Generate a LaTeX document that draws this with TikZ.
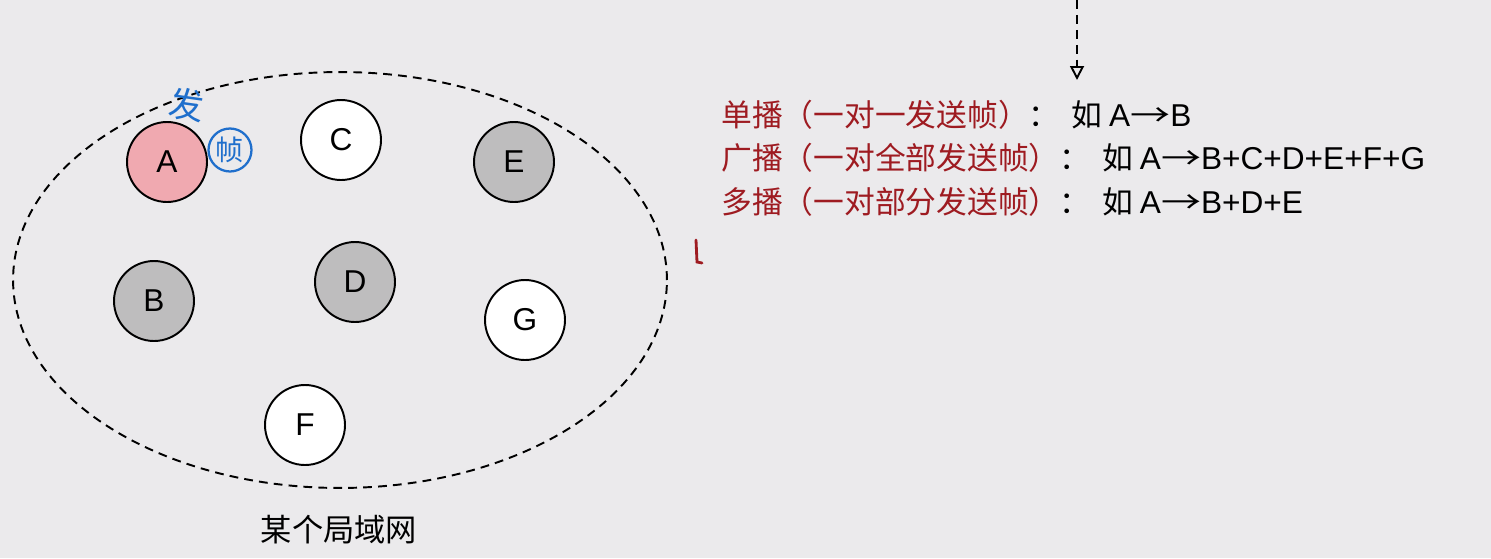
\documentclass[tikz,border=0pt]{standalone}
\usepackage{fontspec}
\setmainfont{Noto Sans CJK SC}
\newfontfamily\latinfont{Liberation Sans}
\usetikzlibrary{arrows.meta,positioning}
\definecolor{slidegray}{HTML}{EBEAEC}
\definecolor{hostpink}{HTML}{F0A9B0}
\definecolor{hostgray}{HTML}{BEBDBE}
\definecolor{castred}{HTML}{9E1B21}
\definecolor{penblue}{HTML}{1F6FCC}
\newcommand{\lat}[1]{{\latinfont\fontsize{18}{21}\selectfont #1}}
\newcommand{\sendto}{\scalebox{1.3}[1]{→}}
\tikzset{
  host/.style={
    circle,
    draw=black,
    line width=1.1pt,
    fill=white,
    minimum size=1.6cm,
    inner sep=0pt,
    font=\latinfont\fontsize{18}{21}\selectfont
  },
  busyhost/.style={host, fill=hostgray},
  srchost/.style={host, fill=hostpink},
  castline/.style={
    anchor=west,
    inner sep=0pt,
    font=\fontsize{17.5}{21}\selectfont
  },
  pen/.style={
    text=penblue,
    inner sep=1pt
  }
}

\begin{document}
\begin{tikzpicture}[x=0.02cm, y=-0.02cm]
\fill[slidegray] (0,0) rectangle (1491,558);
\useasboundingbox (0,0) rectangle (1491,558);

% the LAN
\draw[dashed, line width=1.1pt, dash pattern=on 5pt off 3.5pt]
  (340,280) ellipse [x radius=6.54cm, y radius=4.16cm];
\node[srchost] (A) at (167,162) {A};
\node[host] (C) at (341,140) {C};
\node[busyhost] (E) at (514,162) {E};
\node[busyhost] (B) at (154,301) {B};
\node[busyhost] (D) at (355,282) {D};
\node[host] (G) at (525,320) {G};
\node[host] (F) at (305,425) {F};
\node[font=\fontsize{17.8}{21}\selectfont] (lan) at (339,530) {某个局域网};

% pen notes
\node[pen, font=\fontsize{20}{22}\selectfont, rotate=-8] (fa) at (187,105) {发};
\node[pen, circle, draw=penblue, line width=1.3pt, minimum size=0.86cm,
  inner sep=0pt, font=\fontsize{16}{17}\selectfont] (zhen) at (230,150) {帧};
\draw[castred, line width=1.6pt, line cap=round] (696,240) -- (697,262) -- (702,263);

% the three cases
\coordinate (feed) at (1077,0);
\coordinate (feedend) at (1077,80);
\draw[dashed, line width=1.1pt, dash pattern=on 5pt off 3.5pt,
  -{Triangle[open, length=0.28cm, width=0.28cm]}] (feed) -- (feedend);
\node[castline] (uni) at (721,115)
  {\textcolor{castred}{单播（一对一发送帧）}：\ \,如\ \lat{A}\sendto\lat{B}};
\node[castline] (broad) at (721,158)
  {\textcolor{castred}{广播（一对全部发送帧）}：\ \,如\ \lat{A}\sendto\lat{B+C+D+E+F+G}};
\node[castline] (multi) at (721,202)
  {\textcolor{castred}{多播（一对部分发送帧）}：\ \,如\ \lat{A}\sendto\lat{B+D+E}};
\end{tikzpicture}
\end{document}
